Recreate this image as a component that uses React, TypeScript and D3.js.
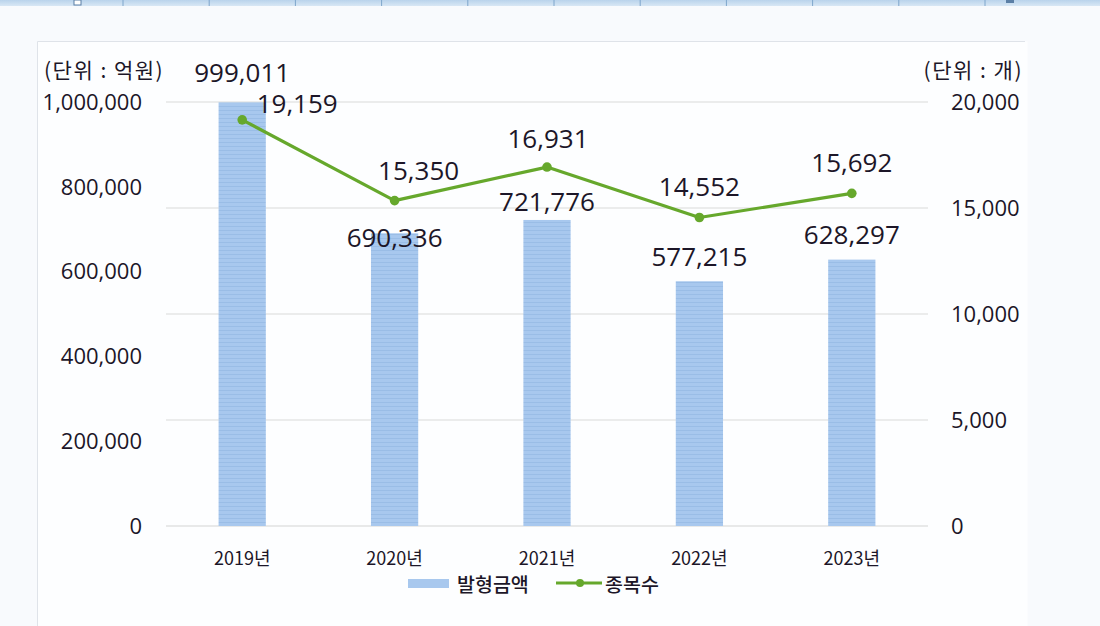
import React from "react";
import * as d3 from "d3";

const years = ["2019년", "2020년", "2021년", "2022년", "2023년"];
const amounts = [999011, 690336, 721776, 577215, 628297];
const counts = [19159, 15350, 16931, 14552, 15692];
const leftTicks = [0, 200000, 400000, 600000, 800000, 1000000];
const rightTicks = [0, 5000, 10000, 15000, 20000];

const W = 1100;
const H = 626;
const plot = { left: 166, right: 928, top: 102, bottom: 526 };

const barLabelDy = [-20, 14, -9, -15, -16];
const lineLabelDx = [55, 24, 1, 0, 0];
const lineLabelDy = [-7, -21, -19, -21, -21];

const NUM_FONT = "'Open Sans', 'Noto Sans', 'Noto Sans CJK KR', sans-serif";
const KR_FONT = "'Noto Sans CJK KR', 'Open Sans', sans-serif";
const GREEN = "#66a82c";
const TEXT = "#1c1628";

export default function App() {
  const x = d3
    .scaleBand<string>()
    .domain(years)
    .range([plot.left, plot.right])
    .paddingInner(0.69)
    .paddingOuter(0.345);
  const yL = d3.scaleLinear().domain([0, 1000000]).range([plot.bottom, plot.top]);
  const yR = d3.scaleLinear().domain([0, 20000]).range([plot.bottom, plot.top]);
  const fmt = d3.format(",");
  const cx = (y: string) => (x(y) as number) + x.bandwidth() / 2;

  const line = d3
    .line<number>()
    .x((_, i) => cx(years[i]))
    .y((d) => yR(d));

  const stripX = d3.range(123, 1000, 86.2);

  return (
    <div style={{ position: "fixed", left: 0, top: 0, width: W, height: H, background: "#f8fafd" }}>
      <svg width={W} height={H} style={{ display: "block" }}>
        <defs>
          <pattern id="stripes" width="6" height="4" patternUnits="userSpaceOnUse">
            <rect width="6" height="4" fill="#a8c8ee" />
            <rect y="2" width="6" height="1" fill="#9abde6" />
          </pattern>
          <linearGradient id="topstrip" x1="0" y1="0" x2="0" y2="1">
            <stop offset="0" stopColor="#b9d3ec" />
            <stop offset="1" stopColor="#d8e7f5" />
          </linearGradient>
        </defs>
        <rect width={W} height={H} fill="#f8fafd" />
        {/* top strip */}
        <rect x={0} y={0} width={W} height={6} fill="url(#topstrip)" />
        {stripX.map((sx, i) => (
          <line key={i} x1={sx} x2={sx} y1={0} y2={6} stroke="#7ea6cc" strokeWidth={1} />
        ))}
        <rect x={74} y={0} width={7} height={5} fill="#ffffff" stroke="#5b7fa6" strokeWidth={1} />
        <rect x={1006} y={0} width={8} height={3} fill="#5b7fa6" />
        {/* chart frame */}
        <rect x={37.5} y={41.5} width={990} height={590} fill="#fdfeff" />
        <line x1={37.5} x2={1025} y1={41.5} y2={41.5} stroke="#dfe3e9" strokeWidth={1} />
        <line x1={37.5} x2={37.5} y1={41.5} y2={626} stroke="#dfe3e9" strokeWidth={1} />

        {/* gridlines */}
        {rightTicks.filter((t) => t > 0).map((t) => (
          <line key={t} x1={plot.left} x2={plot.right} y1={yR(t)} y2={yR(t)} stroke="#d9d9d9" strokeWidth={1.2} />
        ))}
        <line x1={plot.left} x2={plot.right} y1={plot.bottom} y2={plot.bottom} stroke="#d4d4d4" strokeWidth={1.2} />

        {/* bars */}
        {amounts.map((v, i) => (
          <rect
            key={years[i]}
            x={x(years[i])}
            y={yL(v)}
            width={x.bandwidth()}
            height={plot.bottom - yL(v)}
            fill="url(#stripes)"
          />
        ))}

        {/* line */}
        <path d={line(counts) || ""} fill="none" stroke={GREEN} strokeWidth={3.2} strokeLinejoin="round" />
        {counts.map((v, i) => (
          <circle key={i} cx={cx(years[i])} cy={yR(v)} r={4.8} fill={GREEN} />
        ))}

        {/* bar labels */}
        {amounts.map((v, i) => (
          <text
            key={"bl" + i}
            x={cx(years[i])}
            y={yL(v) + barLabelDy[i]}
            textAnchor="middle"
            fontFamily={NUM_FONT}
            fontSize={26}
            fill={TEXT}
          >
            {fmt(v)}
          </text>
        ))}

        {/* line labels */}
        {counts.map((v, i) => (
          <text
            key={"ll" + i}
            x={cx(years[i]) + lineLabelDx[i]}
            y={yR(v) + lineLabelDy[i]}
            textAnchor="middle"
            fontFamily={NUM_FONT}
            fontSize={26}
            fill={TEXT}
          >
            {fmt(v)}
          </text>
        ))}

        {/* left axis */}
        {leftTicks.map((t) => (
          <text
            key={"lt" + t}
            x={142}
            y={yL(t)}
            dy="0.35em"
            textAnchor="end"
            fontFamily={NUM_FONT}
            fontSize={22}
            fill={TEXT}
          >
            {fmt(t)}
          </text>
        ))}
        {/* right axis */}
        {rightTicks.map((t) => (
          <text
            key={"rt" + t}
            x={951}
            y={yR(t)}
            dy="0.35em"
            textAnchor="start"
            fontFamily={NUM_FONT}
            fontSize={22}
            fill={TEXT}
          >
            {fmt(t)}
          </text>
        ))}

        {/* units */}
        <text x={44} y={78} fontFamily={KR_FONT} fontSize={21} letterSpacing={1.5} fill={TEXT}>
          (단위 : 억원)
        </text>
        <text x={1023} y={78} textAnchor="end" fontFamily={KR_FONT} fontSize={21} letterSpacing={1.5} fill={TEXT}>
          (단위 : 개)
        </text>

        {/* x axis labels */}
        {years.map((y) => (
          <text
            key={"x" + y}
            x={cx(y)}
            y={565}
            textAnchor="middle"
            fontFamily={KR_FONT}
            fontSize={18}
            fill={TEXT}
          >
            {y}
          </text>
        ))}

        {/* legend */}
        <rect x={408} y={579} width={41} height={9} fill="#a8c8ee" />
        <text x={457} y={592} fontFamily={KR_FONT} fontSize={19.5} fontWeight={500} fill={TEXT}>
          발형금액
        </text>
        <line x1={556} x2={602} y1={583} y2={583} stroke={GREEN} strokeWidth={3} />
        <circle cx={580} cy={583} r={4} fill={GREEN} />
        <text x={605} y={592} fontFamily={KR_FONT} fontSize={19.5} fontWeight={500} fill={TEXT}>
          종목수
        </text>
      </svg>
    </div>
  );
}
